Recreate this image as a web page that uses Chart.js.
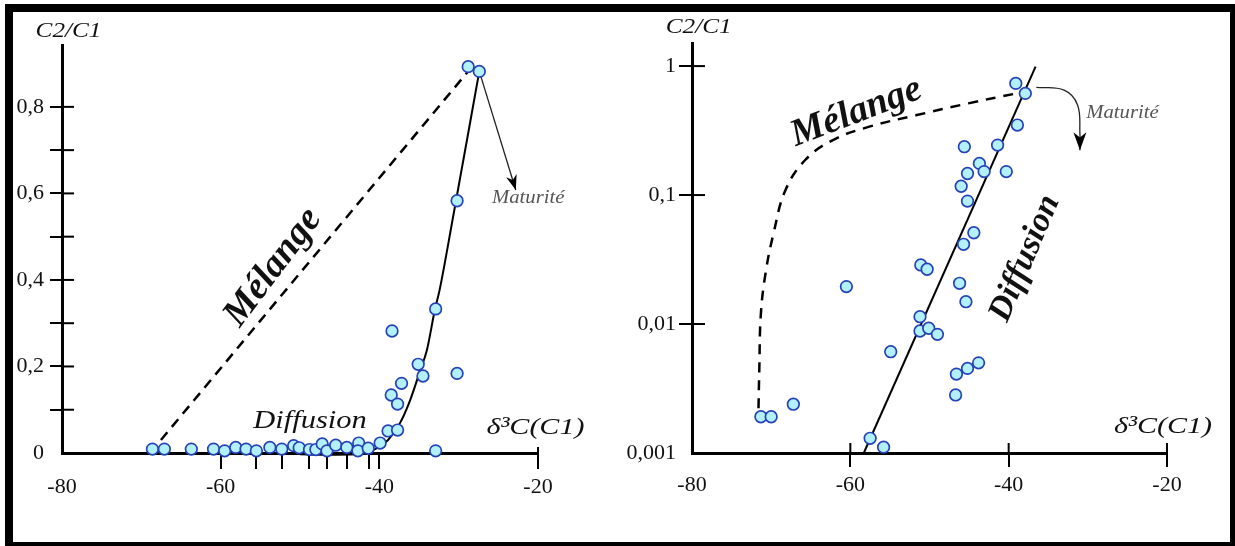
<!DOCTYPE html>
<html>
<head>
<meta charset="utf-8">
<script src="https://cdn.jsdelivr.net/npm/chart.js@4.4.1/dist/chart.umd.min.js"></script>
<style>
   body { margin: 0; background: #fff; }
   #frame { position: absolute; left: 5px; top: 4px; width: 1230px; height: 542px; background: #000; }
   #paper { position: absolute; left: 8px; top: 8px; width: 1217px; height: 530px; background: #fff; }
   #left-chart { position: absolute; left: 13px; top: 12px; }
   #right-chart { position: absolute; left: 615px; top: 12px; }
</style>
</head>
<body>
<div id="frame"><div id="paper"></div></div>
<canvas id="left-chart" width="600" height="530"></canvas>
<canvas id="right-chart" width="597" height="530"></canvas>

<script>
/* ---------------------------------------------------------------------------------*/
/* Data */
/* ---------------------------------------------------------------------------------*/

// Left panel: C2/C1 (linear) vs d13C(C1)
const leftSampleX = [-68.6, -67.1, -63.7, -60.9, -59.5, -58.1, -56.8, -55.5, -53.8, -52.3, -50.8, -50.1,
   -48.8, -48.0, -47.2, -46.6, -45.5, -44.1, -42.6, -42.7, -41.4, -39.9, -38.9, -37.7,
   -38.5, -37.7, -37.2, -38.4, -35.1, -34.5, -32.9, -32.9, -30.2, -30.2, -28.8, -27.4];
const leftSampleY = [0.009, 0.009, 0.009, 0.009, 0.005, 0.013, 0.009, 0.005, 0.013, 0.009, 0.017, 0.012,
   0.008, 0.008, 0.021, 0.005, 0.018, 0.013, 0.023, 0.005, 0.011, 0.023, 0.051, 0.053,
   0.134, 0.113, 0.161, 0.282, 0.205, 0.178, 0.333, 0.005, 0.184, 0.583, 0.893, 0.882];

const leftDiffusionX = [-50.0, -46.5, -43.0, -41.6, -40.3, -38.9, -37.4, -36.1, -34.9, -34.0, -33.0, -32.4, -30.7, -27.4];
const leftDiffusionY = [-0.003, -0.004, -0.003, 0.001, 0.011, 0.030, 0.069, 0.123, 0.188, 0.238, 0.331, 0.377, 0.546, 0.882];

const leftMelangeX = [-68.9, -28.9];
const leftMelangeY = [0, 0.88];

const leftArrowX = [-27.4, -22.8];
const leftArrowY = [0.882, 0.608];

const leftXTicks = [-80, -60, -55.5, -52.3, -48.9, -46.6, -44.1, -41.3, -40, -20];
const leftXLabels = [-80, -60, -40, -20];
const leftYTicks = [0, 0.1, 0.2, 0.3, 0.4, 0.5, 0.6, 0.7, 0.8];
const leftYLabels = [0, 0.2, 0.4, 0.6, 0.8];

// Right panel: C2/C1 (log) vs d13C(C1)
const rightSampleX = [-39.1, -37.9, -38.9, -45.6, -41.4, -43.7, -43.1, -40.3, -45.2, -46.0, -45.2, -44.4,
   -45.7, -51.1, -50.3, -46.2, -60.5, -45.4, -51.2, -51.2, -50.1, -49.0, -54.9, -43.8,
   -45.2, -46.6, -46.7, -67.2, -71.3, -70.0, -57.5, -55.8];
const rightSampleY = [0.734, 0.614, 0.349, 0.237, 0.244, 0.176, 0.152, 0.152, 0.147, 0.117, 0.0898, 0.051,
   0.0415, 0.0287, 0.0266, 0.0207, 0.0195, 0.0149, 0.0114, 0.00883, 0.00927, 0.00832, 0.0061, 0.005,
   0.00453, 0.00409, 0.00282, 0.00239, 0.00191, 0.00191, 0.0013, 0.00111];

const rightDiffusionX = [-58.3, -36.6];
const rightDiffusionY = [0.001, 0.99];

const rightMelangeX = [-71.6, -71.5, -71.3, -70.7, -69.7, -68.2, -65.7, -62.2, -57.6, -51.6, -45.1, -39.0];
const rightMelangeY = [0.00222, 0.0044, 0.012, 0.025, 0.0505, 0.109, 0.187, 0.267, 0.339, 0.417, 0.514, 0.614];

const rightArrowX = [-36.5, -33.0, -31.3, -31.0, -31.0];
const rightArrowY = [0.684, 0.651, 0.5, 0.3, 0.223];

const rightXTicks = [-80, -60, -40, -20];
const rightYTicks = [0.001, 0.01, 0.1, 1];

/* ---------------------------------------------------------------------------------*/
/* Helpers */
/* ---------------------------------------------------------------------------------*/

const serif = "'Liberation Serif', 'Times New Roman', serif";
const toPoints = (xs, ys) => xs.map((x, i) => ({ x: x, y: ys[i] }));
const comma = v => String(v).replace('.', ',');

const samples = (xs, ys) => ({
   data: toPoints(xs, ys),
   showLine: false,
   pointRadius: 5.8,
   pointBackgroundColor: '#b2f1fb',
   pointBorderColor: '#2541b6',
   pointBorderWidth: 1.7,
   clip: false
});

const curve = (xs, ys, extra) => Object.assign({
   data: toPoints(xs, ys),
   showLine: true,
   pointRadius: 0,
   borderColor: '#000',
   borderWidth: 2,
   fill: false,
   clip: false
}, extra);

// Plugin: inner half of tick marks, arrow heads and free text
const sketchPlugin = (extra) => ({
   id: 'sketch',
   afterDatasetsDraw(chart) {
      const ctx = chart.ctx;
      const area = chart.chartArea;
      const xs = chart.scales.x;
      const ys = chart.scales.y;

      ctx.save();
      ctx.strokeStyle = '#000';
      ctx.lineWidth = 2;
      extra.xInner.forEach(v => {
         const px = xs.getPixelForValue(v);
         ctx.beginPath();
         ctx.moveTo(px, area.bottom);
         ctx.lineTo(px, area.bottom - extra.xInnerLen);
         ctx.stroke();
      });
      extra.yInner.forEach(v => {
         const py = ys.getPixelForValue(v);
         ctx.beginPath();
         ctx.moveTo(area.left, py);
         ctx.lineTo(area.left + extra.yInnerLen, py);
         ctx.stroke();
      });

      // arrow heads at the end of the arrow datasets
      extra.arrows.forEach(a => {
         const pts = chart.getDatasetMeta(a.index).data;
         const p1 = pts[pts.length - 2];
         const p2 = pts[pts.length - 1];
         const ang = Math.atan2(p2.y - p1.y, p2.x - p1.x);
         ctx.save();
         ctx.translate(p2.x, p2.y);
         ctx.rotate(ang);
         ctx.fillStyle = '#000';
         ctx.beginPath();
         ctx.moveTo(0, 0);
         ctx.lineTo(-a.len, -a.half);
         ctx.lineTo(-a.len * 0.7, 0);
         ctx.lineTo(-a.len, a.half);
         ctx.closePath();
         ctx.fill();
         ctx.restore();
      });

      extra.texts.forEach(t => {
         let px, py;
         if (t.dx !== undefined) {
            px = area.left + t.dx;
            py = area.top + t.dy;
         } else {
            px = xs.getPixelForValue(t.x);
            py = ys.getPixelForValue(t.y);
         }
         ctx.save();
         ctx.translate(px, py);
         if (t.angle) ctx.rotate(t.angle * Math.PI / 180);
         ctx.scale(t.stretch || 1, 1);
         ctx.font = t.font;
         ctx.fillStyle = t.color || '#111';
         ctx.textAlign = t.align || 'left';
         ctx.textBaseline = 'alphabetic';
         ctx.fillText(t.text, 0, 0);
         ctx.restore();
      });
      ctx.restore();
   }
});

const baseOptions = {
   responsive: false,
   animation: false,
   events: [],
   plugins: {
      legend: { display: false },
      tooltip: { enabled: false }
   }
};

/* ---------------------------------------------------------------------------------*/
/* Left chart */
/* ---------------------------------------------------------------------------------*/

new Chart(document.querySelector('#left-chart'), {
   type: 'scatter',
   data: {
      datasets: [
         samples(leftSampleX, leftSampleY),
         curve(leftDiffusionX, leftDiffusionY, { cubicInterpolationMode: 'monotone' }),
         curve(leftMelangeX, leftMelangeY, { borderDash: [10, 7], borderWidth: 2.5 }),
         curve(leftArrowX, leftArrowY, { borderWidth: 1.3, borderColor: '#222' })
      ]
   },
   options: Object.assign({}, baseOptions, {
      layout: { padding: { top: 33, right: 75, left: 0, bottom: 0 } },
      scales: {
         x: {
            type: 'linear', min: -80, max: -20,
            afterFit: s => { s.height = 89; },
            afterBuildTicks: s => { s.ticks = leftXTicks.map(v => ({ value: v })); },
            border: { color: '#000', width: 3 },
            grid: {
               drawOnChartArea: false, tickLength: 16, lineWidth: 2,
               color: c => (c.tick && c.tick.value === -80) ? 'rgba(0,0,0,0)' : '#000'
            },
            ticks: {
               autoSkip: false, maxRotation: 0, padding: 5, color: '#111',
               font: { family: serif, size: 22 },
               callback: v => leftXLabels.includes(v) ? String(v) : ''
            }
         },
         y: {
            type: 'linear', min: 0, max: 0.943,
            afterFit: s => { s.width = 49; },
            afterBuildTicks: s => { s.ticks = leftYTicks.map(v => ({ value: v })); },
            border: { color: '#000', width: 3 },
            grid: {
               drawOnChartArea: false, tickLength: 12, lineWidth: 2,
               color: c => (c.tick && c.tick.value === 0) ? 'rgba(0,0,0,0)' : '#000'
            },
            ticks: {
               autoSkip: false, padding: 6, color: '#111',
               font: { family: serif, size: 22 },
               callback: v => leftYLabels.includes(v) ? comma(v) : ''
            }
         }
      }
   }),
   plugins: [sketchPlugin({
      xInner: [-20], xInnerLen: 6,
      yInner: leftYTicks.filter(v => v > 0), yInnerLen: 12,
      arrows: [{ index: 3, len: 15, half: 5.5 }],
      texts: [
         { text: 'C2/C1', dx: -26.4, dy: -8.3, font: 'italic 21px ' + serif, stretch: 1.2 },
         { text: 'Mélange', x: -52.4, y: 0.415, angle: -53, align: 'center', font: 'bold italic 38px ' + serif },
         { text: 'Diffusion', x: -55.9, y: 0.058, font: 'italic 25px ' + serif, stretch: 1.22 },
         { text: 'Maturité', x: -25.8, y: 0.577, font: 'italic 18px ' + serif, color: '#555', stretch: 1.15 },
         { text: 'δ³C(C1)', x: -26.5, y: 0.044, font: 'italic 24px ' + serif, stretch: 1.25 }
      ]
   })]
});

/* ---------------------------------------------------------------------------------*/
/* Right chart */
/* ---------------------------------------------------------------------------------*/

new Chart(document.querySelector('#right-chart'), {
   type: 'scatter',
   data: {
      datasets: [
         samples(rightSampleX, rightSampleY),
         curve(rightDiffusionX, rightDiffusionY),
         curve(rightMelangeX, rightMelangeY, { borderDash: [10, 8], borderWidth: 2.5, tension: 0.4 }),
         curve(rightArrowX, rightArrowY, { borderWidth: 1.3, borderColor: '#222', tension: 0.4 })
      ]
   },
   options: Object.assign({}, baseOptions, {
      layout: { padding: { top: 31, right: 45, left: 0, bottom: 0 } },
      scales: {
         x: {
            type: 'linear', min: -80, max: -20,
            afterFit: s => { s.height = 89; },
            afterBuildTicks: s => { s.ticks = rightXTicks.map(v => ({ value: v })); },
            border: { color: '#000', width: 3 },
            grid: {
               drawOnChartArea: false, tickLength: 14, lineWidth: 2,
               color: c => (c.tick && c.tick.value === -80) ? 'rgba(0,0,0,0)' : '#000'
            },
            ticks: {
               autoSkip: false, maxRotation: 0, padding: 5, color: '#111',
               font: { family: serif, size: 22 },
               callback: v => String(v)
            }
         },
         y: {
            type: 'logarithmic', min: 0.001, max: 1.51,
            afterFit: s => { s.width = 77; },
            afterBuildTicks: s => { s.ticks = rightYTicks.map(v => ({ value: v })); },
            border: { color: '#000', width: 3 },
            grid: {
               drawOnChartArea: false, tickLength: 13, lineWidth: 2,
               color: c => (c.tick && c.tick.value === 0.001) ? 'rgba(0,0,0,0)' : '#000'
            },
            ticks: {
               autoSkip: false, padding: 3, color: '#111',
               font: { family: serif, size: 22 },
               callback: v => comma(v)
            }
         }
      }
   }),
   plugins: [sketchPlugin({
      xInner: [-60, -40, -20], xInnerLen: 10,
      yInner: [0.01, 0.1, 1], yInnerLen: 13,
      arrows: [{ index: 3, len: 18, half: 6.5 }],
      texts: [
         { text: 'C2/C1', dx: -26.2, dy: -9.7, font: 'italic 21px ' + serif, stretch: 1.2 },
         { text: 'Mélange', x: -58.8, y: 0.37, angle: -21, align: 'center', font: 'bold italic 38px ' + serif },
         { text: 'Diffusion', x: -36.9, y: 0.0304, angle: -67, align: 'center', font: 'bold italic 34px ' + serif },
         { text: 'Maturité', x: -30.2, y: 0.395, font: 'italic 18px ' + serif, color: '#555', stretch: 1.15 },
         { text: 'δ³C(C1)', x: -26.7, y: 0.00143, font: 'italic 24px ' + serif, stretch: 1.25 }
      ]
   })]
});
</script>
</body>
</html>
